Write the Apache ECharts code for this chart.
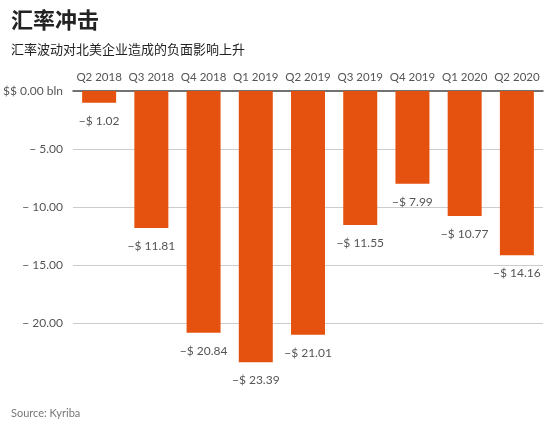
<!DOCTYPE html>
<html><head><meta charset="utf-8">
<script src="https://cdn.jsdelivr.net/npm/echarts@6/dist/echarts.min.js"></script>
<style>html,body{margin:0;background:#fff}#main{width:550px;height:427px}</style>
</head><body><div id="main"></div>
<script>
var quarters = ['Q2 2018','Q3 2018','Q4 2018','Q1 2019','Q2 2019','Q3 2019','Q4 2019','Q1 2020','Q2 2020'];
var losses = [-1.02, -11.81, -20.84, -23.39, -21.01, -11.55, -7.99, -10.77, -14.16];
var yTicks = [0, -5, -10, -15, -20];

var myChart = echarts.init(document.getElementById('main'));
var font = 'Lato, "Noto Sans CJK SC", sans-serif';
var option = {
    textStyle: {fontFamily: font},
    title: [
        {text: '汇率冲击', left: 6, top: 4, textStyle: {fontFamily: '"Noto Sans CJK SC"', fontSize: 22, fontWeight: 'bold', color: '#222'}},
        {text: '汇率波动对北美企业造成的负面影响上升', left: 6, top: 38, textStyle: {fontFamily: '"Noto Sans CJK SC"', fontSize: 13, fontWeight: 'normal', color: '#222'}},
        {text: 'Source: Kyriba', left: 6, top: 403, textStyle: {fontFamily: font, fontSize: 11, fontWeight: 'normal', color: '#777'}}
    ],
    grid: {left: 70, right: 7, top: 91, bottom: 46},
    xAxis: {
        type: 'category', position: 'top', data: quarters,
        axisLine: {show: true, lineStyle: {color: '#444', width: 1.5}},
        axisTick: {show: false},
        axisLabel: {color: '#555', fontSize: 11.5, margin: 8, interval: 0, fontFamily: font}
    },
    yAxis: {
        type: 'value', min: -25, max: 0, interval: 5,
        axisLine: {show: false}, axisTick: {show: false},
        axisLabel: {
            color: '#555', fontSize: 12, margin: 10, fontFamily: font,
            formatter: function (v) {
                if (yTicks.indexOf(v) < 0) return '';
                if (v === 0) return '$$ 0.00 bln';
                return '− ' + Math.abs(v).toFixed(2);
            }
        },
        splitLine: {lineStyle: {color: ['transparent', '#ccc', '#ccc', '#ccc', '#ccc', 'transparent']}}
    },
    series: [{
        type: 'bar', data: losses, barWidth: 34,
        itemStyle: {color: '#e5520f'},
        label: {
            show: true, position: 'bottom', distance: 12, color: '#555', fontSize: 12, fontFamily: font,
            formatter: function (p) { return '−$ ' + Math.abs(p.value).toFixed(2); }
        }
    }]
};
myChart.setOption(option, true);
</script></body></html>
